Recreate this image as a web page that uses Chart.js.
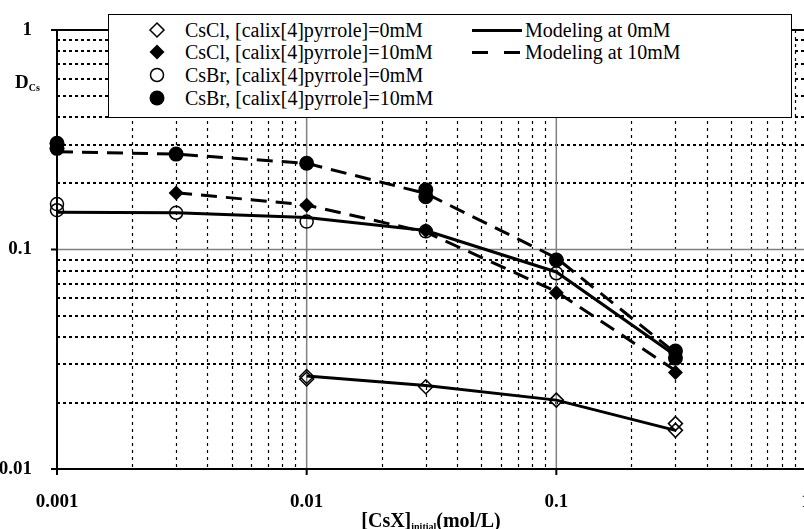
<!DOCTYPE html>
<html>
<head>
<meta charset="utf-8">
<script src="https://cdn.jsdelivr.net/npm/chart.js@4.4.0/dist/chart.umd.min.js"></script>
<style>
  html, body { margin: 0; padding: 0; overflow: hidden; background: #fff; }
  #wrap { position: relative; width: 830px; height: 529px; }
  #legend {
    position: absolute; left: 108px; top: 14px; width: 682px; height: 102px;
    border: 1px solid #000; background: #fff;
    font-family: "Liberation Serif", "Times New Roman", serif; font-size: 20px; color: #000;
  }
  .item { position: absolute; white-space: nowrap; transform: translateY(-50%); line-height: 20px; }
  .mark { position: absolute; transform: translate(-50%, -50%); }
  .title { position: absolute; font-family: "Liberation Serif", "Times New Roman", serif; font-weight: bold; color: #000; white-space: nowrap; }
  .title sub { font-size: 10px; vertical-align: baseline; position: relative; top: 3px; }
</style>
</head>
<body>
<div id="wrap">
  <canvas id="chart" width="830" height="529"></canvas>
  <div id="legend"></div>
  <div class="title" id="ytitle" style="left:15px; top:71px; font-size:19px;">D<sub>Cs</sub></div>
  <div class="title" id="xtitle" style="left:431px; top:509px; font-size:20px; transform:translateX(-50%);">[CsX]<sub>initial</sub>(mol/L)</div>
</div>
<script>
// Achsen-Ticks
const xTicks = [0.001, 0.01, 0.1, 1];
const xTickLabels = ['0.001', '0.01', '0.1', '1'];
const yTicks = [0.01, 0.1, 1];
const yTickLabels = ['0.01', '0.1', '1'];

// Messwerte
const xCsCl0 = [0.01, 0.01, 0.03, 0.1, 0.3, 0.3];
const yCsCl0 = [0.0264, 0.0257, 0.0237, 0.0206, 0.0161, 0.0150];

const xCsCl10 = [0.003, 0.01, 0.03, 0.1, 0.3];
const yCsCl10 = [0.181, 0.159, 0.122, 0.0636, 0.0275];

const xCsBr0 = [0.001, 0.001, 0.003, 0.01, 0.03, 0.1];
const yCsBr0 = [0.161, 0.151, 0.147, 0.134, 0.121, 0.0779];

const xCsBr10 = [0.001, 0.001, 0.003, 0.01, 0.03, 0.03, 0.1, 0.3, 0.3];
const yCsBr10 = [0.305, 0.289, 0.272, 0.247, 0.187, 0.174, 0.0896, 0.0345, 0.0320];

// Modellkurven
const xModel0Cl = [0.01, 0.03, 0.1, 0.3];
const yModel0Cl = [0.0265, 0.0240, 0.0206, 0.0150];

const xModel0Br = [0.001, 0.003, 0.01, 0.03, 0.1, 0.3];
const yModel0Br = [0.1477, 0.147, 0.140, 0.122, 0.0790, 0.0329];

const xModel10Cl = [0.003, 0.01, 0.03, 0.1, 0.3];
const yModel10Cl = [0.1815, 0.1595, 0.120, 0.0643, 0.0281];

const xModel10Br = [0.001, 0.003, 0.01, 0.03, 0.1, 0.3];
const yModel10Br = [0.279, 0.272, 0.247, 0.180, 0.0915, 0.0338];

const pts = (xs, ys) => xs.map((x, i) => ({ x, y: ys[i] }));

// Legende (HTML)
const legendItems = [
  { col: 0, row: 0, mark: '<svg width="18" height="18"><path d="M9 2 L16 9 L9 16 L2 9 Z" fill="none" stroke="#000" stroke-width="1.5"/></svg>', text: 'CsCl, [calix[4]pyrrole]=0mM' },
  { col: 0, row: 1, mark: '<svg width="18" height="18"><path d="M9 1.5 L16.5 9 L9 16.5 L1.5 9 Z" fill="#000"/></svg>', text: 'CsCl, [calix[4]pyrrole]=10mM' },
  { col: 0, row: 2, mark: '<svg width="18" height="18"><circle cx="9" cy="9" r="6.5" fill="none" stroke="#000" stroke-width="1.5"/></svg>', text: 'CsBr, [calix[4]pyrrole]=0mM' },
  { col: 0, row: 3, mark: '<svg width="18" height="18"><circle cx="9" cy="9" r="7.5" fill="#000"/></svg>', text: 'CsBr, [calix[4]pyrrole]=10mM' },
  { col: 1, row: 0, mark: '<svg width="50" height="6"><line x1="0" y1="3" x2="50" y2="3" stroke="#000" stroke-width="3"/></svg>', text: 'Modeling at 0mM' },
  { col: 1, row: 1, mark: '<svg width="50" height="6"><line x1="0" y1="3" x2="50" y2="3" stroke="#000" stroke-width="3" stroke-dasharray="16 16"/></svg>', text: 'Modeling at 10mM' }
];
const legendEl = document.getElementById('legend');
const rowY = [14.5, 37, 60, 82.5];
legendItems.forEach(it => {
  const markX = it.col === 0 ? 48 : 388;
  const textX = it.col === 0 ? 76 : 416;
  legendEl.insertAdjacentHTML('beforeend',
    `<div class="mark" style="left:${markX}px; top:${rowY[it.row]}px; line-height:0">${it.mark}</div>` +
    `<div class="item" style="left:${textX}px; top:${rowY[it.row]}px">${it.text}</div>`);
});

// Gitternetz, Rahmen und Ticks
const gridPlugin = {
  id: 'logGrid',
  beforeDatasetsDraw(chart) {
    const { ctx, chartArea: a, scales: { x, y } } = chart;
    ctx.save();
    // Nebenlinien vertikal
    ctx.strokeStyle = '#000';
    ctx.lineWidth = 1.2;
    ctx.setLineDash([3, 4]);
    for (let e = -3; e < 0; e++) {
      for (let m = 2; m <= 9; m++) {
        const px = Math.round(x.getPixelForValue(m * Math.pow(10, e))) + 0.5;
        ctx.beginPath(); ctx.moveTo(px, a.top); ctx.lineTo(px, a.bottom); ctx.stroke();
      }
    }
    // Nebenlinien horizontal
    ctx.lineWidth = 2;
    ctx.setLineDash([3, 3]);
    for (let e = -2; e < 0; e++) {
      for (let m = 2; m <= 9; m++) {
        const py = Math.round(y.getPixelForValue(m * Math.pow(10, e)));
        ctx.beginPath(); ctx.moveTo(a.left, py); ctx.lineTo(a.right, py); ctx.stroke();
      }
    }
    // Hauptlinien
    ctx.setLineDash([]);
    ctx.strokeStyle = '#808080';
    ctx.lineWidth = 1.5;
    xTicks.forEach(v => {
      const px = x.getPixelForValue(v);
      ctx.beginPath(); ctx.moveTo(px, a.top); ctx.lineTo(px, a.bottom); ctx.stroke();
    });
    yTicks.forEach(v => {
      const py = y.getPixelForValue(v);
      ctx.beginPath(); ctx.moveTo(a.left, py); ctx.lineTo(a.right, py); ctx.stroke();
    });
    // Rahmen
    ctx.strokeStyle = '#000';
    ctx.lineWidth = 2;
    ctx.strokeRect(a.left, a.top, a.right - a.left, a.bottom - a.top);
    // Ticks
    xTicks.forEach(v => {
      const px = x.getPixelForValue(v);
      ctx.beginPath(); ctx.moveTo(px, a.bottom); ctx.lineTo(px, a.bottom + 6); ctx.stroke();
    });
    yTicks.forEach(v => {
      const py = y.getPixelForValue(v);
      ctx.beginPath(); ctx.moveTo(a.left - 6, py); ctx.lineTo(a.left, py); ctx.stroke();
    });
    ctx.restore();
  }
};

const tickFont = { family: '"Liberation Serif", "Times New Roman", serif', size: 19, weight: 'bold' };

const openMark = { backgroundColor: 'rgba(0,0,0,0)', borderColor: '#000', borderWidth: 1.5 };
const fullMark = { backgroundColor: '#000', borderColor: '#000', borderWidth: 0 };
const modelLine = { showLine: true, pointRadius: 0, borderColor: '#000', borderWidth: 3, backgroundColor: '#000', fill: false, tension: 0 };

const ctx = document.getElementById('chart').getContext('2d');
new Chart(ctx, {
  type: 'scatter',
  data: {
    datasets: [
      { label: 'CsCl, [calix[4]pyrrole]=0mM', data: pts(xCsCl0, yCsCl0), pointStyle: 'rectRot', pointRadius: 7, ...openMark, clip: false },
      { label: 'CsCl, [calix[4]pyrrole]=10mM', data: pts(xCsCl10, yCsCl10), pointStyle: 'rectRot', pointRadius: 7.5, ...fullMark, clip: false },
      { label: 'CsBr, [calix[4]pyrrole]=0mM', data: pts(xCsBr0, yCsBr0), pointStyle: 'circle', pointRadius: 6.5, ...openMark, clip: false },
      { label: 'CsBr, [calix[4]pyrrole]=10mM', data: pts(xCsBr10, yCsBr10), pointStyle: 'circle', pointRadius: 7.5, ...fullMark, clip: false },
      { label: 'Modeling at 0mM', data: pts(xModel0Cl, yModel0Cl), ...modelLine },
      { label: 'Modeling at 0mM', data: pts(xModel0Br, yModel0Br), ...modelLine },
      { label: 'Modeling at 10mM', data: pts(xModel10Cl, yModel10Cl), ...modelLine, borderDash: [16, 9] },
      { label: 'Modeling at 10mM', data: pts(xModel10Br, yModel10Br), ...modelLine, borderDash: [16, 9] }
    ]
  },
  options: {
    responsive: false,
    animation: false,
    layout: { padding: { top: 30, right: 24, left: 0, bottom: 0 } },
    plugins: { legend: { display: false }, tooltip: { enabled: false } },
    scales: {
      x: {
        type: 'logarithmic', min: 0.001, max: 1,
        afterBuildTicks: s => { s.ticks = xTicks.map(v => ({ value: v })); },
        afterFit: s => { s.height = 60; },
        grid: { display: false }, border: { display: false },
        ticks: { callback: (v, i) => xTickLabels[i], font: tickFont, color: '#000', padding: 14, maxRotation: 0, autoSkip: false }
      },
      y: {
        type: 'logarithmic', min: 0.01, max: 1,
        afterBuildTicks: s => { s.ticks = yTicks.map(v => ({ value: v })); },
        afterFit: s => { s.width = 57; },
        grid: { display: false }, border: { display: false },
        ticks: { callback: (v, i) => yTickLabels[i], font: tickFont, color: '#000', padding: 17, autoSkip: false }
      }
    }
  },
  plugins: [gridPlugin]
});
</script>
</body>
</html>
